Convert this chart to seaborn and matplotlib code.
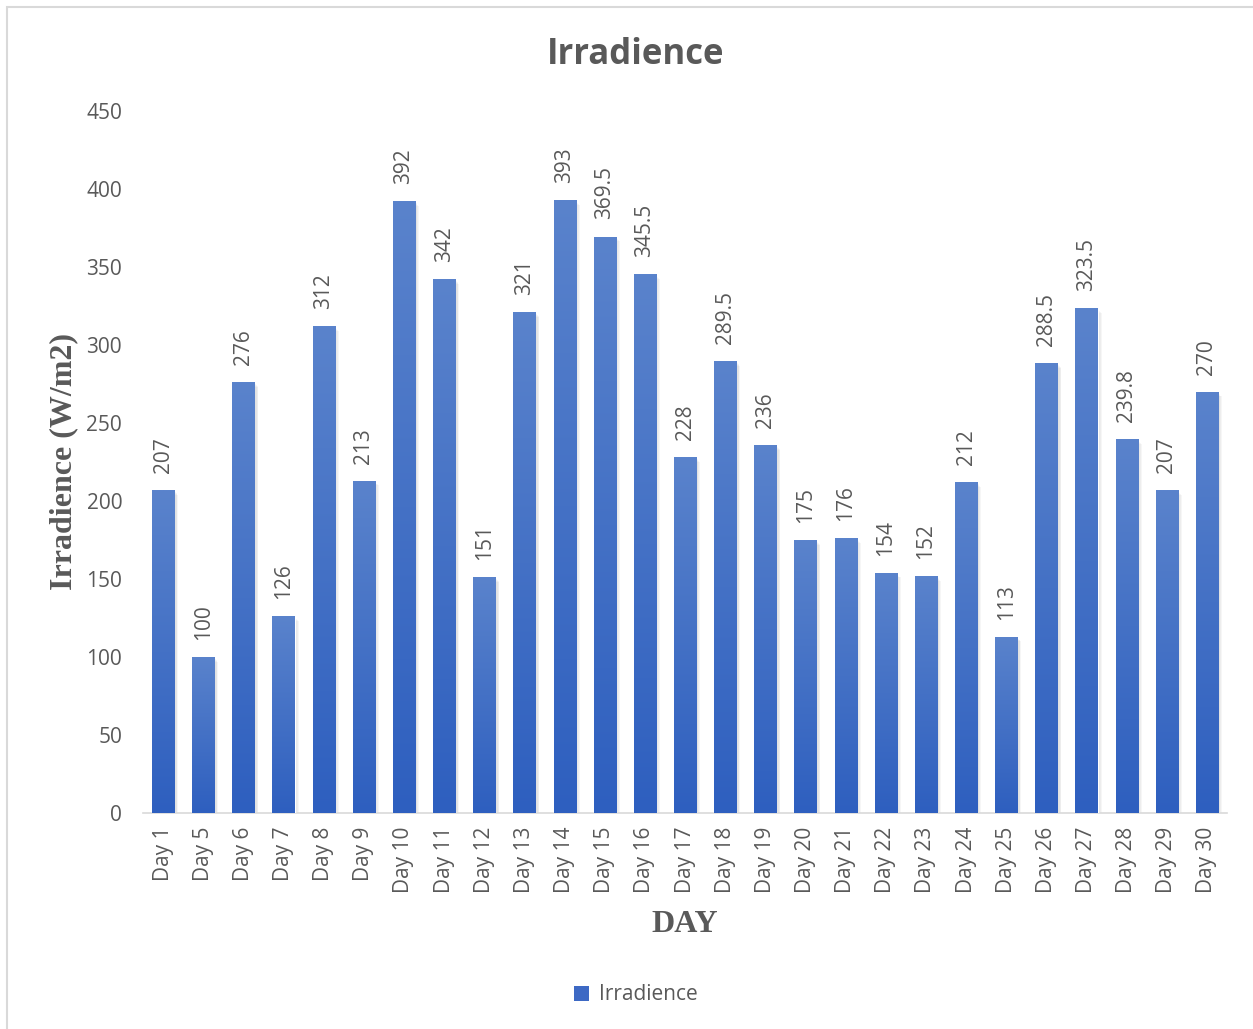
import numpy as np
import pandas as pd
import matplotlib
matplotlib.use("Agg")
import matplotlib.pyplot as plt
import seaborn as sns
from matplotlib.colors import LinearSegmentedColormap
from matplotlib.patches import Rectangle

days = ["Day 1", "Day 5", "Day 6", "Day 7", "Day 8", "Day 9", "Day 10", "Day 11",
        "Day 12", "Day 13", "Day 14", "Day 15", "Day 16", "Day 17", "Day 18", "Day 19",
        "Day 20", "Day 21", "Day 22", "Day 23", "Day 24", "Day 25", "Day 26", "Day 27",
        "Day 28", "Day 29", "Day 30"]
irradience = [207, 100, 276, 126, 312, 213, 392, 342, 151, 321, 393, 369.5, 345.5, 228,
              289.5, 236, 175, 176, 154, 152, 212, 113, 288.5, 323.5, 239.8, 207, 270]
y_ticks = [0, 50, 100, 150, 200, 250, 300, 350, 400, 450]

df = pd.DataFrame({"Day": days, "Irradience": irradience})

sns.set_theme(style="white")
plt.rcParams["font.family"] = ["Open Sans", "DejaVu Sans"]

W, H = 1253, 1029
fig = plt.figure(figsize=(W / 100, H / 100), dpi=100)
ax = fig.add_axes([143 / W, 1 - 813 / H, (1227 - 143) / W, (813 - 111) / H])

bar_top = "#5a83cc"
bar_bot = "#2e5fbf"
text_gray = "#595959"
fs = 15

sns.barplot(data=df, x="Day", y="Irradience", ax=ax, color=bar_bot, width=0.55,
            saturation=1, zorder=3)

# vertical gradient fill and soft shadow for every bar
cmap = LinearSegmentedColormap.from_list("bar", [bar_bot, bar_top])
grad = np.linspace(0, 1, 256).reshape(-1, 1)
for p in list(ax.patches):
    x0, w, h = p.get_x(), p.get_width(), p.get_height()
    for k in range(1, 6):
        ax.add_patch(Rectangle((x0 + 0.02 * k, 0), w, h - 0.6 * k,
                               facecolor="black", alpha=0.035, linewidth=0, zorder=2))
    im = ax.imshow(grad, extent=[x0, x0 + w, 0, h], origin="lower", cmap=cmap,
                   aspect="auto", zorder=3.5, interpolation="bilinear")
    im.set_clip_path(p)
ax.set_xlim(-0.5, len(days) - 0.5)
ax.set_ylim(0, 450)

for i, v in enumerate(irradience):
    ax.text(i, v + 11, f"{v:g}", rotation=90, ha="center", va="bottom",
            fontsize=fs, color=text_gray, zorder=5)

ax.set_yticks(y_ticks)
ax.set_yticklabels([str(t) for t in y_ticks], fontsize=fs, color=text_gray)
ax.tick_params(axis="x", rotation=90, labelsize=fs, labelcolor=text_gray, length=0, pad=10)
ax.tick_params(axis="y", length=0, pad=15)

for s in ["top", "right", "left"]:
    ax.spines[s].set_visible(False)
ax.spines["bottom"].set_color("#d9d9d9")
ax.spines["bottom"].set_linewidth(1.2)

ax.set_xlabel("DAY", family=["Liberation Serif"], fontweight="bold", fontsize=23,
              color=text_gray, labelpad=12)
ax.set_ylabel("Irradience (W/m2)", family=["Liberation Serif"], fontweight="bold",
              fontsize=23, color=text_gray, labelpad=6)

fig.text(0.5075, 1 - 55 / H, "Irradience", ha="center", va="center", fontsize=25,
         fontweight="bold", color=text_gray)

# legend
handle = Rectangle((0, 0), 1, 1, facecolor="#3d69c4", edgecolor="none")
fig.legend([handle], ["Irradience"], loc="center", bbox_to_anchor=(636 / W, 1 - 995 / H),
           frameon=False, fontsize=fs, labelcolor=text_gray, handlelength=0.7,
           handleheight=0.7, handletextpad=0.5)

# chart border
fig.patches.append(Rectangle((7 / W, -0.1), 1.2, 1.1 - 7 / H, transform=fig.transFigure,
                             fill=False, edgecolor="#d9d9d9", linewidth=1.5))

fig.savefig("out.png", dpi=100)
